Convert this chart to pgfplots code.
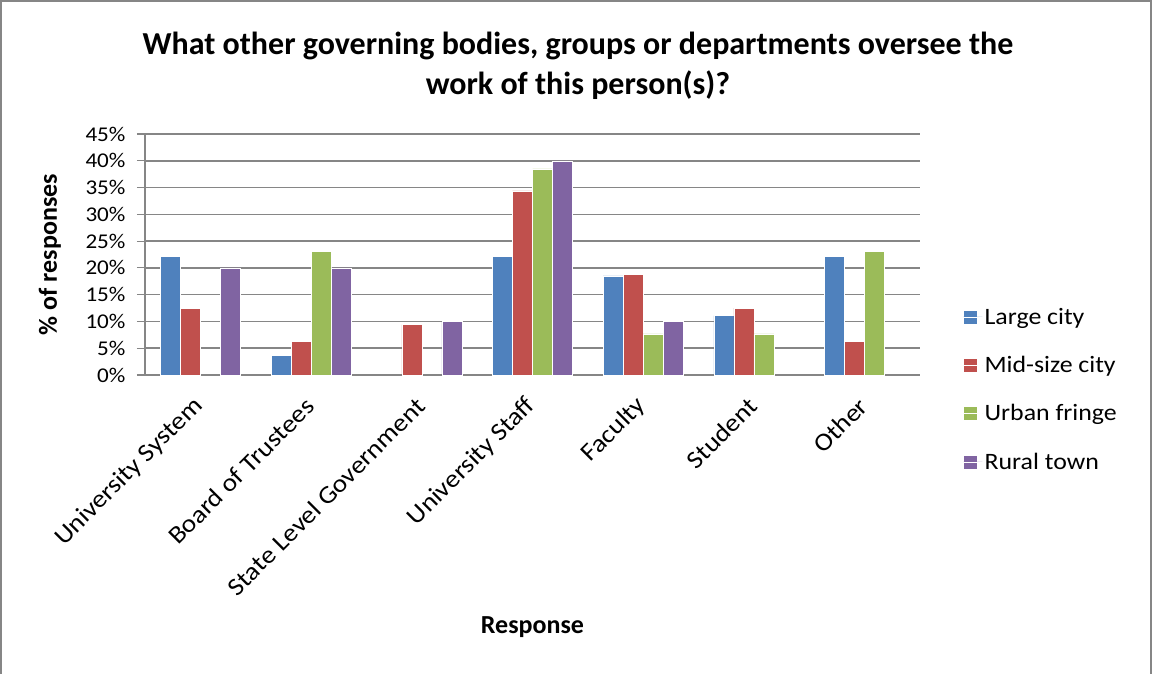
\documentclass[border=0pt]{standalone}
\usepackage{pgfplots}
\pgfplotsset{compat=1.18}
\usepackage{fontspec}
\setmainfont{Carlito}
\newfontfamily\wide{Carlito}[FakeStretch=1.1]
\definecolor{cBlue}{RGB}{79,129,189}
\definecolor{cRed}{RGB}{192,80,77}
\definecolor{cGreen}{RGB}{155,187,89}
\definecolor{cPurple}{RGB}{128,100,162}
\definecolor{cGrid}{RGB}{134,134,134}
\begin{document}
\begin{tikzpicture}[x=1pt,y=1pt]
\useasboundingbox (0,0) rectangle (1152,-673);
\draw[cGrid, line width=1.5pt] (1,-690) -- (1,-1) -- (1151,-1) -- (1151,-690);
\node[font=\fontsize{32}{40}\selectfont\bfseries, align=center] at (578,-66)
  {What other governing bodies, groups or departments oversee the\\work of this person(s)?};
\begin{axis}[
  at={(145pt,-375pt)}, anchor=south west,
  scale only axis, width=775pt, height=241pt,
  ybar=0pt, bar width=20pt,
  xmin=-0.5, xmax=6.5, ymin=0, ymax=45,
  xtick={0,...,6},
  xticklabels={University System,Board of Trustees,State Level Government,University Staff,Faculty,Student,Other},
  xticklabel style={anchor=east, xshift=-1pt, yshift=-19pt, rotate=45, inner sep=0pt, font=\wide\fontsize{25}{30}\selectfont},
  ytick={0,5,...,45},
  yticklabel={\pgfmathprintnumber{\tick}\%},
  /pgf/number format/assume math mode=true,
  yticklabel style={font=\wide\fontsize{21}{25}\selectfont, xshift=-8pt},
  axis x line*=bottom, axis y line*=left,
  axis line style={cGrid, line width=1.5pt, -},
  ymajorgrids, grid style={cGrid, line width=1.5pt},
  tick align=outside, major tick length=8pt,
  ytick style={cGrid, line width=1.2pt},
  xtick style={draw=none},
  ylabel={\% of responses},
  every axis y label/.style={at={(axis description cs:0,0.5)}, xshift=-95pt, rotate=90, anchor=center, font=\fontsize{26}{30}\selectfont\bfseries},
  xlabel={Response},
  every axis x label/.style={at={(axis description cs:0.5,0)}, anchor=center, yshift=-252pt, font=\fontsize{26}{30}\selectfont\bfseries},
  legend style={at={(1.0555,-0.06)}, anchor=west, draw=none, font=\wide\fontsize{23.5}{28}\selectfont,
    row sep=26.5pt, cells={anchor=west}, inner sep=0pt},
  legend image code/.code={\fill[#1] (0pt,-7pt) rectangle (14pt,7pt); \path (0pt,0pt) -- (19pt,0pt);},
]
\addplot[fill=cBlue, draw=white, line width=0.4pt] coordinates {(0,22.2) (1,3.7) (3,22.2) (4,18.5) (5,11.1) (6,22.2)};
\addplot[fill=cRed, draw=white, line width=0.4pt] coordinates {(0,12.5) (1,6.25) (2,9.4) (3,34.4) (4,18.75) (5,12.5) (6,6.25)};
\addplot[fill=cGreen, draw=white, line width=0.4pt] coordinates {(1,23.1) (3,38.5) (4,7.7) (5,7.7) (6,23.1)};
\addplot[fill=cPurple, draw=white, line width=0.4pt] coordinates {(0,20) (1,20) (2,10) (3,40) (4,10)};
\legend{Large city, Mid-size city, Urban fringe, Rural town}
\end{axis}
\end{tikzpicture}
\end{document}
